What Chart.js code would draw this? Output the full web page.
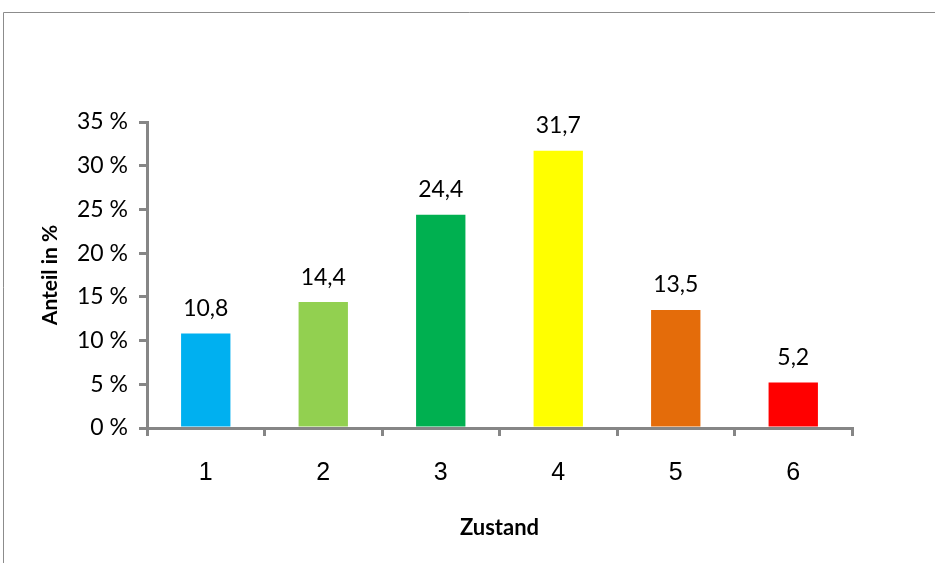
<!DOCTYPE html>
<html>
<head>
<meta charset="utf-8">
<script src="https://cdn.jsdelivr.net/npm/chart.js@4/dist/chart.umd.min.js"></script>
<style>
html,body{margin:0;padding:0;background:#fff;}
#wrap{width:935px;height:563px;position:relative;}
</style>
</head>
<body>
<div id="wrap"><canvas id="c" width="935" height="563"></canvas></div>
<script>
const categories = ['1', '2', '3', '4', '5', '6'];
const values = [10.8, 14.4, 24.4, 31.7, 13.5, 5.2];
const barColors = ['#00B0F0', '#92D050', '#00B050', '#FFFF00', '#E46C0A', '#FF0000'];
const yTitle = 'Anteil in %';
const xTitle = 'Zustand';

const AXIS = '#868686';

const framePlugin = {
  id: 'frame',
  beforeDraw(chart) {
    const ctx = chart.ctx;
    ctx.save();
    ctx.strokeStyle = '#8c8c8c';
    ctx.lineWidth = 1;
    ctx.beginPath();
    ctx.moveTo(3.5, 563);
    ctx.lineTo(3.5, 12.5);
    ctx.lineTo(935, 12.5);
    ctx.stroke();
    ctx.restore();
  }
};

const labelPlugin = {
  id: 'labels',
  afterDatasetsDraw(chart) {
    const ctx = chart.ctx;
    const meta = chart.getDatasetMeta(0);
    ctx.save();
    ctx.fillStyle = '#000';
    ctx.font = '23px Lato';
    ctx.textAlign = 'center';
    ctx.textBaseline = 'middle';
    meta.data.forEach((bar, i) => {
      const txt = values[i].toFixed(1).replace('.', ',');
      ctx.fillText(txt, bar.x, bar.y - 25);
    });
    const ca = chart.chartArea;
    ctx.font = 'bold 21px Lato';
    ctx.save();
    ctx.translate(50, (ca.top + ca.bottom) / 2);
    ctx.rotate(-Math.PI / 2);
    ctx.fillText(yTitle, 0, 0);
    ctx.restore();
    ctx.font = 'bold 22px Lato';
    ctx.fillText(xTitle, (ca.left + ca.right) / 2, 528);
    ctx.restore();
  }
};

new Chart(document.getElementById('c'), {
  type: 'bar',
  data: {
    labels: categories,
    datasets: [{
      data: values,
      backgroundColor: barColors,
      borderWidth: 0,
      categoryPercentage: 1,
      barPercentage: 0.42
    }]
  },
  options: {
    responsive: false,
    animation: false,
    devicePixelRatio: 1,
    layout: { padding: { top: 122, right: 83, left: 0, bottom: 0 } },
    plugins: { legend: { display: false }, tooltip: { enabled: false } },
    scales: {
      x: {
        offset: true,
        afterFit(s) { s.height = 135; },
        grid: { display: true, offset: true, drawOnChartArea: false, color: AXIS, lineWidth: 3, tickLength: 8 },
        border: { display: true, color: AXIS, width: 3 },
        ticks: { color: '#000', font: { family: "'Liberation Sans', Arial, sans-serif", size: 25 }, padding: 22 }
      },
      y: {
        min: 0, max: 35,
        afterFit(s) { s.width = 147; },
        grid: { display: true, drawOnChartArea: false, color: AXIS, lineWidth: 3, tickLength: 8 },
        border: { display: true, color: AXIS, width: 3 },
        ticks: {
          stepSize: 5, color: '#000', padding: 11,
          font: { family: 'Lato', size: 23 },
          callback: v => v + ' %'
        }
      }
    }
  },
  plugins: [framePlugin, labelPlugin]
});
</script>
</body>
</html>
